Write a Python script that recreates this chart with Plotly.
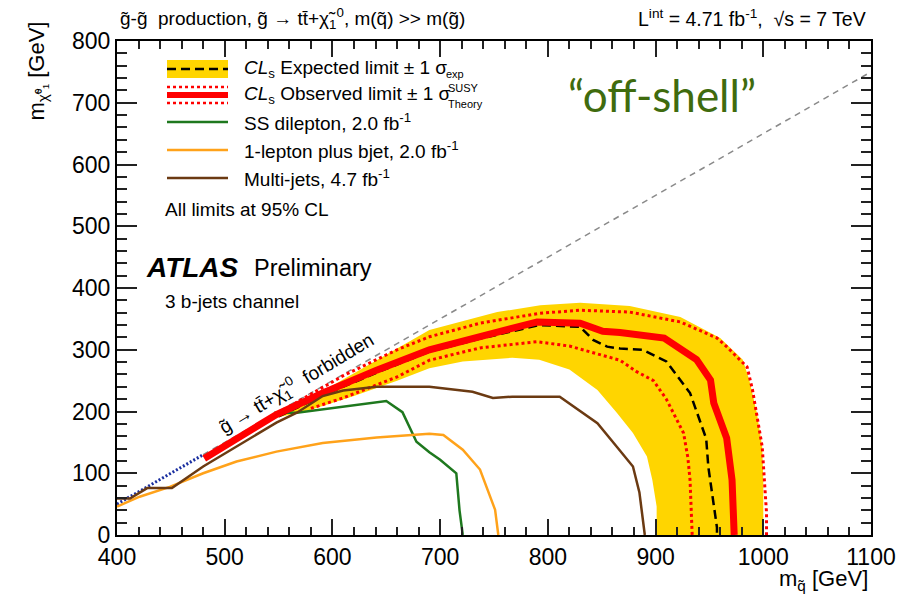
import plotly.graph_objects as go

# ---- exclusion contours (m_gluino [GeV], m_neutralino [GeV]) ----
band_outer_x = [548, 580, 620, 660, 690, 753, 793, 830, 876, 923, 960, 981, 987, 994, 999, 1000, 1000]
band_outer_y = [190, 222, 262, 302, 332, 361, 372, 376, 371, 353, 319, 284, 251, 198, 143, 89, 0]
band_inner_x = [901, 901, 897, 892, 879, 864, 846, 820, 792, 767, 721, 690, 660, 620, 580, 548]
band_inner_y = [0, 46, 89, 127, 165, 198, 235, 268, 284, 287, 281, 270, 250, 225, 203, 190]

exp_x = [550, 591, 641, 690, 737, 792, 830, 842, 855, 867, 888, 910, 932, 947, 949, 957, 957]
exp_y = [192, 226, 263, 297, 318, 340, 337, 316, 305, 302, 300, 281, 230, 156, 110, 12, 0]

obs_x = [481, 548, 591, 641, 690, 737, 790, 830, 851, 867, 908, 938, 951, 954, 957, 966, 971, 973]
obs_y = [124, 195, 230, 267, 300, 321, 345, 343, 330, 328, 319, 284, 251, 214, 198, 157, 89, 0]

obs_up_x = [560, 610, 660, 690, 737, 792, 830, 876, 923, 957, 966, 985, 990, 999, 1003, 1003]
obs_up_y = [208, 258, 300, 321, 343, 359, 364, 361, 345, 319, 305, 272, 235, 143, 36, 0]

obs_dn_x = [580, 610, 660, 690, 737, 790, 820, 851, 867, 882, 898, 910, 926, 930, 932, 934]
obs_dn_y = [205, 222, 256, 283, 303, 313, 306, 290, 283, 265, 250, 220, 165, 125, 89, 0]

ss_x = [546, 567, 650, 665, 678, 690, 700, 715, 718, 721]
ss_y = [198, 198, 217, 199, 151, 134, 122, 100, 40, 0]

lep_x = [400, 421, 449, 480, 511, 548, 591, 641, 690, 703, 721, 737, 751, 754]
lep_y = [46, 62, 78, 100, 119, 135, 149, 158, 164, 162, 138, 106, 41, 0]

mj_x = [400, 412, 428, 451, 480, 517, 548, 567, 591, 610, 641, 690, 730, 749, 767, 811, 846, 864, 879, 885, 890]
mj_y = [59, 59, 76, 76, 111, 149, 182, 198, 225, 234, 240, 240, 232, 222, 224, 224, 181, 143, 111, 69, 0]

# kinematic boundary m_g = m_chi + 2 m_t
kin_x = [480, 1100]
kin_y = [130, 750]
kin_low_x = [400, 480]
kin_low_y = [50, 130]

FONT = "Liberation Sans, Arial, Helvetica, sans-serif"
W, H = 913, 599
ML, MR, MT, MB = 117, 42, 41, 64

YELLOW = "#FFD500"
RED = "#FF0000"
GREEN = "#1E781E"
ORANGE = "#FFA21A"
BROWN = "#6B3A12"


def px(x):
    return (x - ML) / (W - ML - MR)


def py(y):
    return (H - MB - y) / (H - MT - MB)


fig = go.Figure()

fig.add_trace(go.Scatter(
    x=band_outer_x + band_inner_x, y=band_outer_y + band_inner_y,
    fill="toself", fillcolor=YELLOW, mode="lines", line=dict(width=0),
    hoverinfo="skip"))

fig.add_trace(go.Scatter(x=kin_x, y=kin_y, mode="lines",
                         line=dict(color="#8a8a8a", width=1.5, dash="6px,5px")))
fig.add_trace(go.Scatter(x=kin_low_x, y=kin_low_y, mode="lines",
                         line=dict(color="#1a2fa0", width=3, dash="2px,2px")))

fig.add_trace(go.Scatter(x=ss_x, y=ss_y, mode="lines", line=dict(color=GREEN, width=2.5)))
fig.add_trace(go.Scatter(x=lep_x, y=lep_y, mode="lines", line=dict(color=ORANGE, width=2.5)))

fig.add_trace(go.Scatter(x=obs_up_x, y=obs_up_y, mode="lines",
                         line=dict(color=RED, width=3, dash="3px,3px")))
fig.add_trace(go.Scatter(x=obs_dn_x, y=obs_dn_y, mode="lines",
                         line=dict(color=RED, width=3, dash="3px,3px")))
fig.add_trace(go.Scatter(x=exp_x, y=exp_y, mode="lines",
                         line=dict(color="black", width=2.5, dash="9px,5px")))
fig.add_trace(go.Scatter(x=obs_x, y=obs_y, mode="lines", line=dict(color=RED, width=7)))
fig.add_trace(go.Scatter(x=mj_x, y=mj_y, mode="lines", line=dict(color=BROWN, width=2.5)))

# ---- legend drawn by hand ----
shapes = []
lx0, lx1 = px(167), px(228)
shapes.append(dict(type="rect", xref="paper", yref="paper", x0=lx0, x1=lx1,
                   y0=py(78), y1=py(60), fillcolor=YELLOW, line=dict(width=0)))
shapes.append(dict(type="line", xref="paper", yref="paper", x0=lx0, x1=lx1,
                   y0=py(69), y1=py(69), line=dict(color="black", width=2.5, dash="9px,5px")))
for yy in (87, 103):
    shapes.append(dict(type="line", xref="paper", yref="paper", x0=lx0, x1=lx1,
                       y0=py(yy), y1=py(yy), line=dict(color=RED, width=2.5, dash="3px,3px")))
shapes.append(dict(type="line", xref="paper", yref="paper", x0=lx0, x1=lx1,
                   y0=py(95), y1=py(95), line=dict(color=RED, width=6)))
for yy, col in ((122, GREEN), (150, ORANGE), (178, BROWN)):
    shapes.append(dict(type="line", xref="paper", yref="paper", x0=lx0, x1=lx1,
                       y0=py(yy), y1=py(yy), line=dict(color=col, width=2.5)))


def note(text, x, y, size=19, xanchor="left", yanchor="middle", color="black",
         family=FONT, angle=0):
    return dict(text=text, x=px(x), y=py(y), xref="paper", yref="paper",
                xanchor=xanchor, yanchor=yanchor, showarrow=False, textangle=angle,
                font=dict(size=size, color=color, family=family))


ann = [
    note("<i>CL</i><sub>s</sub> Expected limit ± 1 σ", 242, 69),
    note("exp", 444, 74, size=11),
    note("<i>CL</i><sub>s</sub> Observed limit ± 1 σ", 242, 95),
    note("SUSY", 446, 88, size=11),
    note("Theory", 446, 104, size=11),
    note("SS dilepton, 2.0 fb<sup>-1</sup>", 242, 122),
    note("1-lepton plus bjet, 2.0 fb<sup>-1</sup>", 242, 150),
    note("Multi-jets, 4.7 fb<sup>-1</sup>", 242, 178),
    note("All limits at 95% CL", 163, 210),
    note("<b><i>ATLAS</i></b>", 144, 267, size=28),
    note("Preliminary", 252, 268, size=23.5),
    note("3 b-jets channel", 163, 302),
    note("“off-shell”", 662, 95, size=44, xanchor="center", color="#3F6B0E",
         family="Lato, Open Sans, sans-serif"),
    note("g\u0303-g\u0303  production, g\u0303 → tt\u0304+χ\u0303<sub>1</sub><sup>0</sup>, "
         "m(q\u0303) >> m(g\u0303)", 118, 18, size=19),
    note("L<sup>int</sup> = 4.71 fb<sup>-1</sup>,  √s = 7 TeV", 868, 18, size=19.5,
         xanchor="right"),
    note("g\u0303 → tt\u0304+χ\u0303<sub>1</sub><sup>0</sup>  forbidden", 296, 383, size=19,
         xanchor="center", angle=-31),
    note("m<sub>q\u0303</sub> [GeV]", 870, 580, size=22, xanchor="right"),
    note("m<sub>χ\u0303⁰₁</sub> [GeV]", 37, 20, size=22, xanchor="center", yanchor="top",
         angle=-90),
]

axis_common = dict(showline=True, linecolor="black", linewidth=2, mirror="allticks",
                   ticks="inside", tickcolor="#222", tickwidth=1.5, showgrid=False,
                   zeroline=False, tickfont=dict(size=23, color="black", family=FONT))

fig.update_layout(
    width=W, height=H, showlegend=False,
    paper_bgcolor="white", plot_bgcolor="white",
    margin=dict(l=ML, r=MR, t=MT, b=MB, autoexpand=False),
    xaxis=dict(range=[400, 1100], tick0=400, dtick=100, ticklen=16,
               minor=dict(ticks="inside", dtick=20, ticklen=8, tickcolor="#222", tickwidth=1.5),
               **axis_common),
    yaxis=dict(range=[0, 800], tick0=0, dtick=100, ticklen=20,
               minor=dict(ticks="inside", dtick=20, ticklen=10, tickcolor="#222", tickwidth=1.5),
               **axis_common),
    shapes=shapes,
    annotations=ann,
    font=dict(family=FONT, color="black"),
)

fig.write_html("out.html")
